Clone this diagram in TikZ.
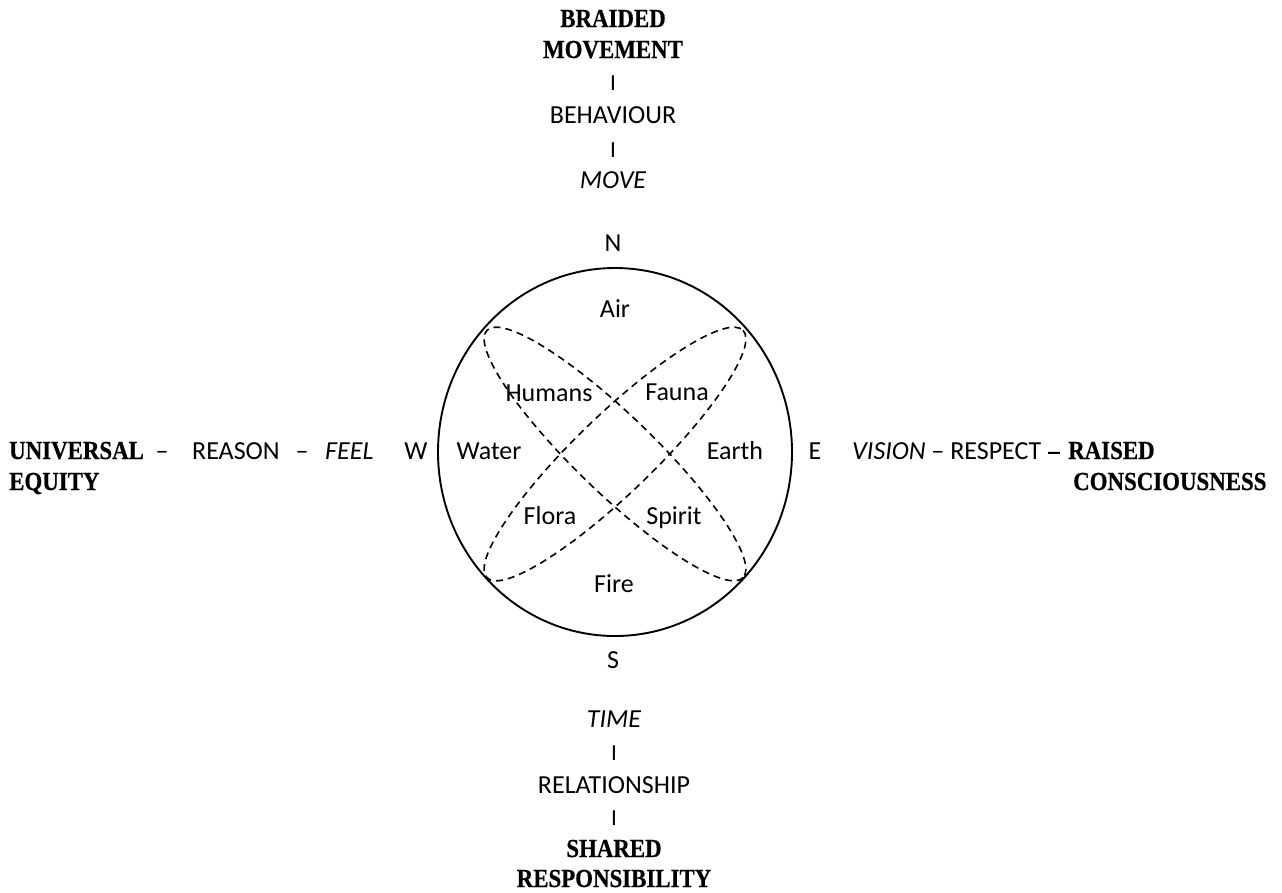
\documentclass[tikz,border=0pt]{standalone}
\usepackage{fontspec}
\setmainfont{Carlito}
\newfontfamily\bserif[FakeStretch=0.88, BoldFeatures={FakeBold=0.5}]{Liberation Serif}
\begin{document}
\begin{tikzpicture}[x=1pt,y=-1pt,
  txt/.style={inner sep=0pt, anchor=base, font=\fontsize{26}{30}\selectfont},
  bld/.style={inner sep=0pt, anchor=base, font=\bserif\bfseries\fontsize{26}{30}\selectfont},
  sepbar/.style={inner sep=0pt, anchor=base, font=\fontsize{23}{27}\selectfont},
  wheel/.style={line width=1.9pt},
  lens/.style={dash pattern=on 7pt off 5pt, line width=1.6pt}]
\useasboundingbox (0,0) rectangle (1282,892);
% north
\node[bld] (braided) at (613,27) {BRAIDED};
\node[bld] (movement) at (613,58) {MOVEMENT};
\node[sepbar] (sepN1) at (613,90) {I};
\node[txt] (behaviour) at (613,123) {BEHAVIOUR};
\node[sepbar] (sepN2) at (613,157) {I};
\node[txt] (move) at (613,188) {\itshape MOVE};
\node[txt] (N) at (613,251) {N};
% wheel
\draw[wheel] (615,452) ellipse [x radius=177, y radius=184];
\begin{scope}[shift={(615,454)}, rotate=-44]
  \draw[lens] (0,0) ellipse [x radius=178, y radius=39];
\end{scope}
\begin{scope}[shift={(615,454)}, rotate=44]
  \draw[lens] (0,0) ellipse [x radius=178, y radius=39];
\end{scope}
\node[txt] (air) at (615,317) {Air};
\node[txt] (humans) at (549,401) {Humans};
\node[txt] (fauna) at (677,400) {Fauna};
\node[txt] (water) at (489,459) {Water};
\node[txt] (earth) at (735,459) {Earth};
\node[txt] (flora) at (550,524) {Flora};
\node[txt] (spirit) at (674,524) {Spirit};
\node[txt] (fire) at (614,592) {Fire};
% south
\node[txt] (S) at (613,668) {S};
\node[txt] (time) at (614,727) {\itshape TIME};
\node[sepbar] (sepS1) at (614,760) {I};
\node[txt] (relationship) at (614,793) {RELATIONSHIP};
\node[sepbar] (sepS2) at (614,825) {I};
\node[bld] (shared) at (614,857) {SHARED};
\node[bld] (responsibility) at (614,887) {RESPONSIBILITY};
% west
\node[txt] (W) at (416,459) {W};
\node[bld, anchor=base west] (universal) at (9,459) {UNIVERSAL};
\node[bld, anchor=base west] (equity) at (9,490) {EQUITY};
\node[txt] (dashL1) at (162,459) {–};
\node[txt, anchor=base west] (reason) at (192,459) {REASON};
\node[txt] (dashL2) at (302,459) {–};
\node[txt, anchor=base west] (feel) at (325,459) {\itshape FEEL};
% east
\node[txt] (E) at (815,459) {E};
\node[txt, anchor=base west] (vision) at (852,459) {\itshape VISION\upshape{} – RESPECT};
\node[bld] (dashR) at (1054,459) {–};
\node[bld, anchor=base west] (raised) at (1068,459) {RAISED};
\node[bld, anchor=base west] (conscious) at (1073,490) {CONSCIOUSNESS};
\end{tikzpicture}
\end{document}
